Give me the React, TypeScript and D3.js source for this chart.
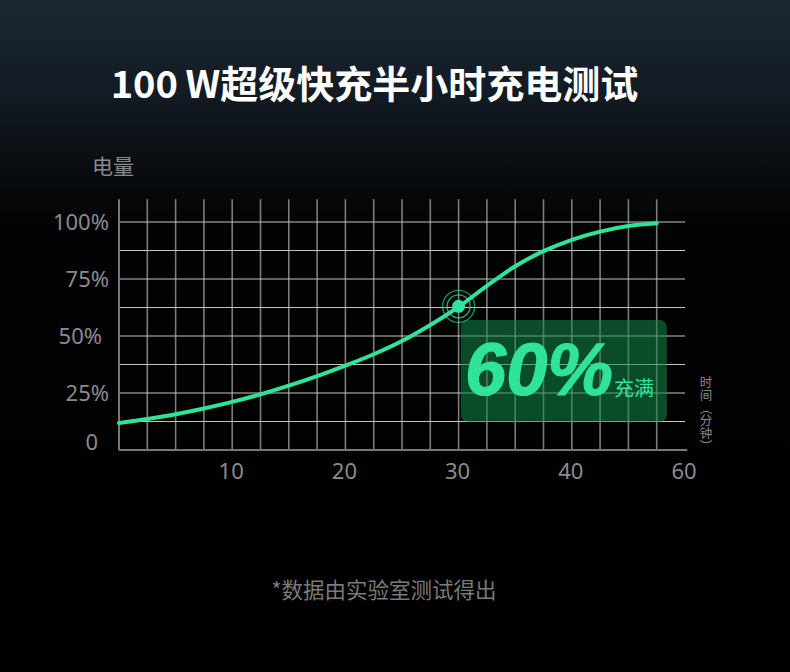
import React from "react";
import * as d3 from "d3";

const minutes = [0, 2.5, 5, 7.5, 10, 12.5, 15, 17.5, 20, 22.5, 25, 27.5, 30, 32.5, 35, 37.5, 40, 42.5, 45, 47.5];
const charge = [11.8, 13.6, 15.7, 18.2, 21.1, 24.4, 28.2, 32.4, 37, 42, 47.8, 54.8, 62.8, 72, 80.6, 87.2, 92.2, 95.8, 98.2, 99.4];

const yTickValues = [0, 25, 50, 75, 100];
const yTickLabels = ["0", "25%", "50%", "75%", "100%"];
const xTickValues = [10, 20, 30, 40, 50];
const xTickLabels = ["10", "20", "30", "40", "60"];

const markerMinute = 30;
const markerCharge = 63;

const title = "100\u2009W超级快充半小时充电测试";
const yAxisTitle = "电量";
const xAxisTitle = "时间（分钟）";
const badgeValue = "60%";
const badgeText = "充满";
const footnote = "*数据由实验室测试得出";

const W = 790;
const H = 672;

export default function App() {
  const x = d3.scaleLinear().domain([0, 50]).range([119, 685]);
  const y = d3.scaleLinear().domain([0, 100]).range([450, 222]);

  const hGrid = d3.range(12.5, 100.1, 12.5);
  const vGrid = d3.range(2.5, 48, 2.5);
  const yTop = 110;

  const line = d3
    .line<number>()
    .x((_, i) => x(minutes[i]))
    .y((d) => y(d))
    .curve(d3.curveMonotoneX);

  const green = "#2fe39b";
  const mx = x(markerMinute);
  const my = y(markerCharge);

  const badgeX0 = x(30.2);
  const badgeX1 = x(48.4);
  const badgeY0 = y(57);
  const badgeY1 = y(12.3);

  const labelFont = "'Noto Sans', 'Noto Sans CJK SC', sans-serif";
  const cjk = "'Noto Sans CJK SC', 'Noto Sans', sans-serif";

  // small per-label nudges to match the original hand layout
  const yLabelShift = (v: number) => (v === 0 ? -11 : v === 50 ? -7 : 0);

  const xTitleChars = Array.from(xAxisTitle);

  return (
    <svg
      width={W}
      height={H}
      viewBox={`0 0 ${W} ${H}`}
      style={{ position: "absolute", left: 0, top: 0, display: "block" }}
    >
      <defs>
        <linearGradient id="bg" x1="0" y1="0" x2="0" y2="1">
          <stop offset="0" stopColor="#1b2732" />
          <stop offset="0.12" stopColor="#141d26" />
          <stop offset="0.22" stopColor="#0b1015" />
          <stop offset="0.34" stopColor="#020304" />
          <stop offset="1" stopColor="#000000" />
        </linearGradient>
      </defs>
      <rect x={0} y={0} width={W} height={H} fill="url(#bg)" />

      <text
        x={374.5}
        y={98}
        textAnchor="middle"
        fill="#ffffff"
        fontFamily={cjk}
        fontWeight={700}
        fontSize={38}
      >
        {title}
      </text>

      <text x={92} y={174} fill="#8a8a8a" fontFamily={cjk} fontSize={21}>
        {yAxisTitle}
      </text>

      {/* vertical grid */}
      {vGrid.map((v) => (
        <line
          key={"v" + v}
          x1={x(v)}
          x2={x(v)}
          y1={y(0)}
          y2={y(yTop)}
          stroke="#7c7c7c"
          strokeWidth={1.6}
        />
      ))}
      {/* horizontal grid */}
      {hGrid.map((v) => (
        <line
          key={"h" + v}
          x1={x(0)}
          x2={x(50)}
          y1={y(v)}
          y2={y(v)}
          stroke="#c2c2c2"
          strokeWidth={1}
        />
      ))}
      {/* axes */}
      <line x1={x(0)} x2={x(0)} y1={y(0)} y2={y(yTop)} stroke="#777" strokeWidth={2} />
      <line x1={x(0)} x2={x(50.2)} y1={y(0)} y2={y(0)} stroke="#777" strokeWidth={2} />

      {/* y tick labels */}
      {yTickValues.map((v, i) => (
        <text
          key={"yl" + v}
          x={109 + yLabelShift(v)}
          y={v === 0 ? y(v) : y(v) + 8}
          textAnchor="end"
          fill="#8b8b8b"
          fontFamily={labelFont}
          fontSize={22}
        >
          {yTickLabels[i]}
        </text>
      ))}
      {/* x tick labels */}
      {xTickValues.map((v, i) => (
        <text
          key={"xl" + v}
          x={x(v) - 1}
          y={479}
          textAnchor="middle"
          fill="#8b8b8b"
          fontFamily={labelFont}
          fontSize={22}
        >
          {xTickLabels[i]}
        </text>
      ))}

      {/* x axis title, vertical, one glyph per slot */}
      {xTitleChars.map((ch, i) => (
        <text
          key={"xt" + i}
          x={706}
          y={376 + i * 12.8}
          fill="#8a8a8a"
          fontFamily="'Noto Sans CJK SC', sans-serif"
          fontSize={12.5}
          style={{ writingMode: "vertical-rl" as any }}
        >
          {ch}
        </text>
      ))}

      {/* badge */}
      <rect
        x={badgeX0}
        y={badgeY0}
        width={badgeX1 - badgeX0}
        height={badgeY1 - badgeY0}
        rx={7}
        fill="#12884b"
        fillOpacity={0.55}
      />

      {/* curve */}
      <path
        d={line(charge) || ""}
        fill="none"
        stroke={green}
        strokeWidth={4}
        strokeLinecap="round"
      />

      {/* marker */}
      <circle cx={mx} cy={my} r={16} fill="none" stroke={green} strokeOpacity={0.6} strokeWidth={1.4} />
      <circle cx={mx} cy={my} r={11.5} fill="none" stroke={green} strokeOpacity={0.75} strokeWidth={1.4} />
      <circle cx={mx} cy={my} r={6.5} fill={green} />

      <text
        x={465}
        y={395}
        fill={green}
        fontFamily="'Liberation Sans', Arial, sans-serif"
        fontWeight={700}
        fontStyle="italic"
        fontSize={74}
        stroke={green}
        strokeWidth={1.2}
      >
        {badgeValue}
      </text>
      <text x={614} y={396} fill={green} fontFamily={cjk} fontSize={20}>
        {badgeText}
      </text>

      <text
        x={384}
        y={598}
        textAnchor="middle"
        fill="#7a7a7a"
        fontFamily={cjk}
        fontSize={21.5}
      >
        {footnote}
      </text>
    </svg>
  );
}
